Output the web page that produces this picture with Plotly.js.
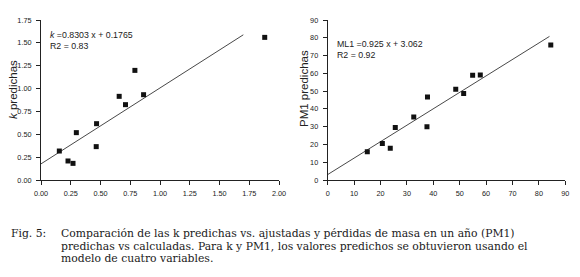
<!DOCTYPE html>
<html><head><meta charset="utf-8">
<script src="https://cdn.plot.ly/plotly-3.0.1.min.js"></script>
<style>html,body{margin:0;padding:0;background:#fff;}#c{width:580px;height:277px;}</style>
</head><body><div id="c"></div>
<script>
// Left panel: k adjusted (x) vs k predicted (y)
const kObs  = [0.154, 0.227, 0.269, 0.297, 0.467, 0.464, 0.657, 0.710, 0.789, 0.862, 1.880];
const kPred = [0.317, 0.208, 0.182, 0.518, 0.616, 0.365, 0.915, 0.824, 1.199, 0.933, 1.560];
const kFit = {slope: 0.8303, intercept: 0.1765, xFrom: 0, xTo: 1.70};
const kTicks = [0, 0.25, 0.5, 0.75, 1, 1.25, 1.5, 1.75, 2];
// Right panel: PM1 calculated (x) vs PM1 predicted (y)
const pmObs  = [15.0, 20.7, 23.7, 25.6, 32.6, 37.6, 37.8, 48.5, 51.5, 54.9, 57.8, 84.5];
const pmPred = [15.9, 20.6, 17.8, 29.6, 35.4, 30.0, 46.7, 51.0, 48.6, 58.9, 59.1, 75.9];
const pmFit = {slope: 0.925, intercept: 3.062, xFrom: 0, xTo: 84.0};
const pmTicks = [0, 10, 20, 30, 40, 50, 60, 70, 80, 90];

const W = 580, H = 277;
const px = x => x / W, py = y => 1 - y / H;
const fitLine = f => ({x: [f.xFrom, f.xTo], y: [f.xFrom, f.xTo].map(v => f.slope * v + f.intercept)});

const kL = fitLine(kFit), pL = fitLine(pmFit);
const mk = {symbol: 'square', size: 5, color: '#111'};
const traces = [
  {x: kL.x, y: kL.y, mode: 'lines', line: {color: '#333', width: 0.9}, xaxis: 'x', yaxis: 'y', hoverinfo: 'skip'},
  {x: kObs, y: kPred, mode: 'markers', marker: mk, xaxis: 'x', yaxis: 'y'},
  {x: pL.x, y: pL.y, mode: 'lines', line: {color: '#333', width: 0.9}, xaxis: 'x2', yaxis: 'y2', hoverinfo: 'skip'},
  {x: pmObs, y: pmPred, mode: 'markers', marker: mk, xaxis: 'x2', yaxis: 'y2'}
];

const tickFont = {family: 'Liberation Sans, Arial, sans-serif', size: 7.3, color: '#222'};
const axBase = {showgrid: false, zeroline: false, showline: true, linecolor: '#222', linewidth: 1,
  ticks: 'outside', ticklen: 4, tickwidth: 1, tickcolor: '#222', tickfont: tickFont, fixedrange: true};
const yDom = [py(180), py(20)];

const layout = {
  width: W, height: H, margin: {l: 0, r: 0, t: 0, b: 0}, showlegend: false,
  paper_bgcolor: '#fff', plot_bgcolor: '#fff',
  xaxis: Object.assign({}, axBase, {domain: [px(41), px(279)], range: [0, 2], tickvals: kTicks, tickformat: '.2f', anchor: 'y', ticklabelstandoff: 2}),
  yaxis: Object.assign({}, axBase, {domain: yDom, range: [0, 1.75], tickvals: kTicks.slice(0, 8), tickformat: '.2f', anchor: 'x', ticklabelstandoff: 3}),
  xaxis2: Object.assign({}, axBase, {domain: [px(327.7), px(565.3)], range: [0, 90], tickvals: pmTicks, anchor: 'y2', ticklabelstandoff: 2}),
  yaxis2: Object.assign({}, axBase, {domain: yDom, range: [0, 90], tickvals: pmTicks, anchor: 'x2', ticklabelstandoff: 3}),
  annotations: []
};
const sans = 'Liberation Sans, Arial, sans-serif';
const serif = 'DejaVu Serif, serif';
function ann(text, x, y, opts) {
  layout.annotations.push(Object.assign({text, x: px(x), y: py(y), xref: 'paper', yref: 'paper',
    showarrow: false, xanchor: 'left', yanchor: 'middle', font: {family: sans, size: 8.8, color: '#222'}}, opts || {}));
}
ann('<i>k</i> =0.8303 x + 0.1765', 47.5, 34.5);
ann('R2 = 0.83', 47.5, 45.7);
ann('ML1 =0.925 x + 3.062', 334.5, 43.7);
ann('R2 = 0.92', 334.5, 55);
const titleFont = {family: sans, size: 11.5, color: '#222'};
ann('<i>k</i> predichas', 13, 90, {textangle: -90, xanchor: 'center', font: titleFont});
ann('PM1 predichas', 303.5, 88.5, {textangle: -90, xanchor: 'center', font: titleFont});
const capFont = {family: serif, size: 10.8, color: '#1a1a1a'};
const capOpts = {font: capFont, height: 12, valign: 'middle'};
ann('Fig. 5:', 9, 233, capOpts);
ann('Comparación de las k predichas vs. ajustadas y pérdidas de masa en un año (PM1)', 59, 233, capOpts);
ann('predichas vs calculadas. Para k y PM1, los valores predichos se obtuvieron usando el', 59, 245.5, capOpts);
ann('modelo de cuatro variables.', 59, 258, capOpts);

Plotly.newPlot('c', traces, layout, {staticPlot: true, displayModeBar: false});
</script></body></html>
